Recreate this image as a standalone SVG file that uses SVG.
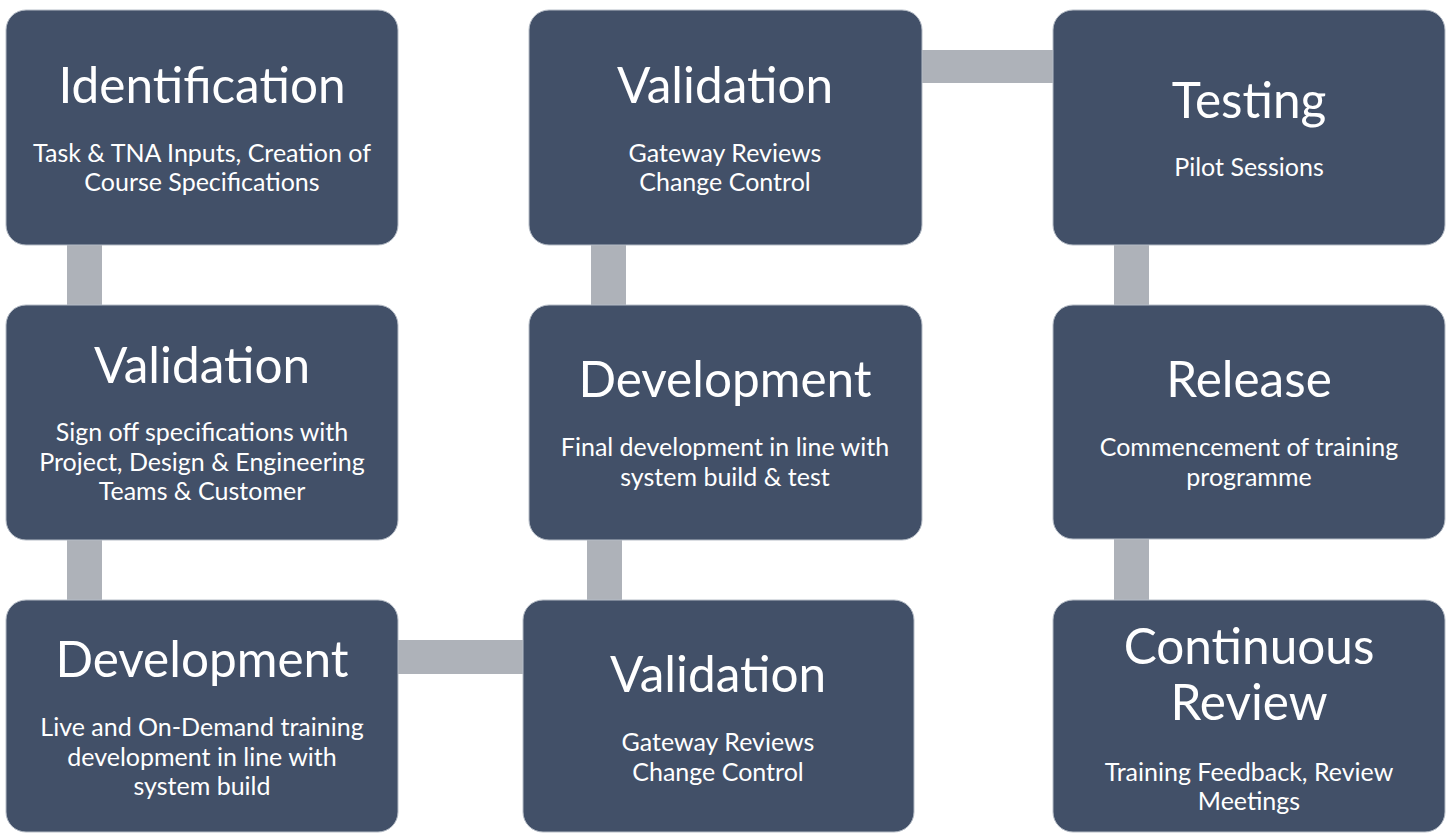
<svg xmlns="http://www.w3.org/2000/svg" width="1449" height="833" viewBox="0 0 1449 833">
<style>
.box{fill:#425068;stroke:#b5bcc6;stroke-width:1}
.conn{fill:#aeb2b9}
text{fill:#ffffff;font-family:Lato,"Noto Sans","Liberation Sans",sans-serif;text-anchor:middle}
.t{font-size:49.5px}
.s{font-size:25px}
</style>
<rect width="1449" height="833" fill="#ffffff"/>
<g id="connectors">
<rect class="conn" x="67" y="244" width="35" height="62"/>
<rect class="conn" x="67" y="539" width="35" height="62"/>
<rect class="conn" x="397" y="640" width="127" height="34"/>
<rect class="conn" x="587" y="539" width="35" height="62"/>
<rect class="conn" x="591" y="244" width="35" height="62"/>
<rect class="conn" x="921" y="50" width="133" height="33"/>
<rect class="conn" x="1114" y="244" width="35" height="62"/>
<rect class="conn" x="1114" y="539" width="35" height="62"/>
</g>
<g id="n1">
<rect class="box" x="6" y="10" width="392" height="235" rx="20"/>
<text class="t" x="202" y="103">Identification</text>
<text class="s" x="202" y="162">Task &amp; TNA Inputs, Creation of</text>
<text class="s" x="202" y="191">Course Specifications</text>
</g>
<g id="n2">
<rect class="box" x="6" y="305" width="392" height="235" rx="20"/>
<text class="t" x="202" y="383">Validation</text>
<text class="s" x="202" y="441">Sign off specifications with</text>
<text class="s" x="202" y="471">Project, Design &amp; Engineering</text>
<text class="s" x="202" y="500">Teams &amp; Customer</text>
</g>
<g id="n3">
<rect class="box" x="6" y="600" width="392" height="232" rx="20"/>
<text class="t" x="202" y="677">Development</text>
<text class="s" x="202" y="736">Live and On-Demand training</text>
<text class="s" x="202" y="766">development in line with</text>
<text class="s" x="202" y="795">system build</text>
</g>
<g id="n4">
<rect class="box" x="523" y="600" width="391" height="232" rx="20"/>
<text class="t" x="718" y="692">Validation</text>
<text class="s" x="718" y="751">Gateway Reviews</text>
<text class="s" x="718" y="781">Change Control</text>
</g>
<g id="n5">
<rect class="box" x="529" y="305" width="393" height="235" rx="20"/>
<text class="t" x="725" y="397">Development</text>
<text class="s" x="725" y="456">Final development in line with</text>
<text class="s" x="725" y="486">system build &amp; test</text>
</g>
<g id="n6">
<rect class="box" x="529" y="10" width="393" height="235" rx="20"/>
<text class="t" x="725" y="103">Validation</text>
<text class="s" x="725" y="162">Gateway Reviews</text>
<text class="s" x="725" y="191">Change Control</text>
</g>
<g id="n7">
<rect class="box" x="1053" y="10" width="392" height="235" rx="20"/>
<text class="t" x="1249" y="118">Testing</text>
<text class="s" x="1249" y="176">Pilot Sessions</text>
</g>
<g id="n8">
<rect class="box" x="1053" y="305" width="392" height="234" rx="20"/>
<text class="t" x="1249" y="397">Release</text>
<text class="s" x="1249" y="456">Commencement of training</text>
<text class="s" x="1249" y="486">programme</text>
</g>
<g id="n9">
<rect class="box" x="1053" y="600" width="392" height="232" rx="20"/>
<text class="t" x="1249" y="664">Continuous</text>
<text class="t" x="1249" y="720">Review</text>
<text class="s" x="1249" y="781">Training Feedback, Review</text>
<text class="s" x="1249" y="810">Meetings</text>
</g>
</svg>
